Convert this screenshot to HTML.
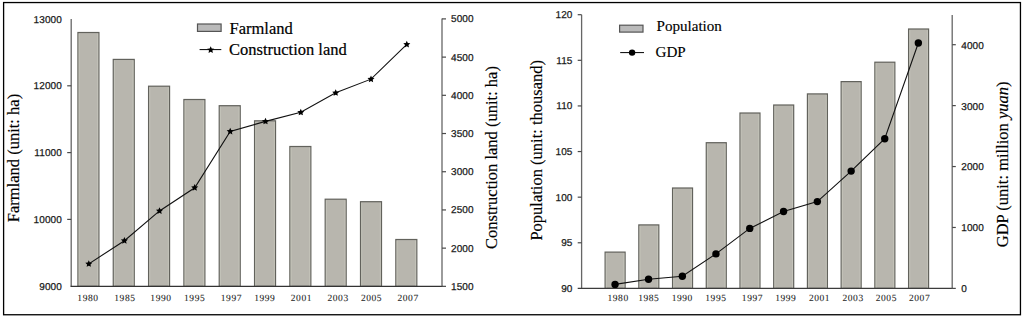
<!DOCTYPE html>
<html><head><meta charset="utf-8"><style>
html,body{margin:0;padding:0;background:#fff;}
body{width:1024px;height:317px;overflow:hidden;}
svg{display:block;}
.tk{font-family:"Liberation Sans",sans-serif;font-size:10px;letter-spacing:0.1px;text-rendering:geometricPrecision;fill:#1a1a1a;stroke:#1a1a1a;stroke-width:0.25px;}
.xl{font-family:"Liberation Serif",serif;font-size:9.5px;fill:#262626;letter-spacing:0.57px;stroke:#262626;stroke-width:0.08px;text-rendering:geometricPrecision;}
.lg{font-family:"Liberation Serif",serif;font-size:16.5px;fill:#000;stroke:#000;stroke-width:0.2px;}
.lg2{font-family:"Liberation Serif",serif;font-size:15.1px;fill:#000;stroke:#000;stroke-width:0.15px;}
.tt{font-family:"Liberation Serif",serif;font-size:16.5px;fill:#000;stroke:#000;stroke-width:0.15px;}
</style></head><body>
<svg width="1024" height="317" viewBox="0 0 1024 317">
<rect x="0" y="0" width="1024" height="317" fill="#fff"/>
<rect x="3.6" y="2.55" width="1016.85" height="312.2" fill="none" stroke="#000" stroke-width="1.3"/>
<rect x="77.93" y="32.50" width="21.0" height="253.85" fill="#b8b6ae" stroke="#62625c" stroke-width="1.2"/>
<line x1="79.13" y1="33.60" x2="79.13" y2="285.75" stroke="#c6c6bc" stroke-width="0.8"/>
<line x1="97.73" y1="33.60" x2="97.73" y2="285.75" stroke="#c6c6bc" stroke-width="0.8"/>
<rect x="113.25" y="59.40" width="21.0" height="226.95" fill="#b8b6ae" stroke="#62625c" stroke-width="1.2"/>
<line x1="114.45" y1="60.50" x2="114.45" y2="285.75" stroke="#c6c6bc" stroke-width="0.8"/>
<line x1="133.05" y1="60.50" x2="133.05" y2="285.75" stroke="#c6c6bc" stroke-width="0.8"/>
<rect x="148.57" y="86.20" width="21.0" height="200.15" fill="#b8b6ae" stroke="#62625c" stroke-width="1.2"/>
<line x1="149.77" y1="87.30" x2="149.77" y2="285.75" stroke="#c6c6bc" stroke-width="0.8"/>
<line x1="168.37" y1="87.30" x2="168.37" y2="285.75" stroke="#c6c6bc" stroke-width="0.8"/>
<rect x="183.90" y="99.50" width="21.0" height="186.85" fill="#b8b6ae" stroke="#62625c" stroke-width="1.2"/>
<line x1="185.10" y1="100.60" x2="185.10" y2="285.75" stroke="#c6c6bc" stroke-width="0.8"/>
<line x1="203.70" y1="100.60" x2="203.70" y2="285.75" stroke="#c6c6bc" stroke-width="0.8"/>
<rect x="219.22" y="105.70" width="21.0" height="180.65" fill="#b8b6ae" stroke="#62625c" stroke-width="1.2"/>
<line x1="220.42" y1="106.80" x2="220.42" y2="285.75" stroke="#c6c6bc" stroke-width="0.8"/>
<line x1="239.02" y1="106.80" x2="239.02" y2="285.75" stroke="#c6c6bc" stroke-width="0.8"/>
<rect x="254.54" y="120.80" width="21.0" height="165.55" fill="#b8b6ae" stroke="#62625c" stroke-width="1.2"/>
<line x1="255.74" y1="121.90" x2="255.74" y2="285.75" stroke="#c6c6bc" stroke-width="0.8"/>
<line x1="274.34" y1="121.90" x2="274.34" y2="285.75" stroke="#c6c6bc" stroke-width="0.8"/>
<rect x="289.86" y="146.50" width="21.0" height="139.85" fill="#b8b6ae" stroke="#62625c" stroke-width="1.2"/>
<line x1="291.06" y1="147.60" x2="291.06" y2="285.75" stroke="#c6c6bc" stroke-width="0.8"/>
<line x1="309.66" y1="147.60" x2="309.66" y2="285.75" stroke="#c6c6bc" stroke-width="0.8"/>
<rect x="325.18" y="199.20" width="21.0" height="87.15" fill="#b8b6ae" stroke="#62625c" stroke-width="1.2"/>
<line x1="326.38" y1="200.30" x2="326.38" y2="285.75" stroke="#c6c6bc" stroke-width="0.8"/>
<line x1="344.98" y1="200.30" x2="344.98" y2="285.75" stroke="#c6c6bc" stroke-width="0.8"/>
<rect x="360.51" y="201.70" width="21.0" height="84.65" fill="#b8b6ae" stroke="#62625c" stroke-width="1.2"/>
<line x1="361.71" y1="202.80" x2="361.71" y2="285.75" stroke="#c6c6bc" stroke-width="0.8"/>
<line x1="380.31" y1="202.80" x2="380.31" y2="285.75" stroke="#c6c6bc" stroke-width="0.8"/>
<rect x="395.83" y="239.50" width="21.0" height="46.85" fill="#b8b6ae" stroke="#62625c" stroke-width="1.2"/>
<line x1="397.03" y1="240.60" x2="397.03" y2="285.75" stroke="#c6c6bc" stroke-width="0.8"/>
<line x1="415.63" y1="240.60" x2="415.63" y2="285.75" stroke="#c6c6bc" stroke-width="0.8"/>
<line x1="71.2" y1="19" x2="71.2" y2="286.35" stroke="#666" stroke-width="1.3"/>
<line x1="70.5" y1="286.35" x2="442.7" y2="286.35" stroke="#333" stroke-width="1.1"/>
<line x1="442.0" y1="18.6" x2="442.0" y2="286.35" stroke="#666" stroke-width="1.3"/>
<text x="61.9" y="22.50" text-anchor="end" class="tk">13000</text>
<line x1="67.2" y1="85.80" x2="71.2" y2="85.80" stroke="#4a4a4a" stroke-width="1.2"/>
<text x="61.9" y="89.30" text-anchor="end" class="tk">12000</text>
<line x1="67.2" y1="152.60" x2="71.2" y2="152.60" stroke="#4a4a4a" stroke-width="1.2"/>
<text x="61.9" y="156.10" text-anchor="end" class="tk">11000</text>
<line x1="67.2" y1="219.40" x2="71.2" y2="219.40" stroke="#4a4a4a" stroke-width="1.2"/>
<text x="61.9" y="222.90" text-anchor="end" class="tk">10000</text>
<text x="61.9" y="289.70" text-anchor="end" class="tk">9000</text>
<line x1="442.0" y1="286.35" x2="446.0" y2="286.35" stroke="#4a4a4a" stroke-width="1.2"/>
<text x="451" y="289.85" class="tk">1500</text>
<line x1="442.0" y1="248.14" x2="446.0" y2="248.14" stroke="#4a4a4a" stroke-width="1.2"/>
<text x="451" y="251.64" class="tk">2000</text>
<line x1="442.0" y1="209.94" x2="446.0" y2="209.94" stroke="#4a4a4a" stroke-width="1.2"/>
<text x="451" y="213.44" class="tk">2500</text>
<line x1="442.0" y1="171.73" x2="446.0" y2="171.73" stroke="#4a4a4a" stroke-width="1.2"/>
<text x="451" y="175.23" class="tk">3000</text>
<line x1="442.0" y1="133.52" x2="446.0" y2="133.52" stroke="#4a4a4a" stroke-width="1.2"/>
<text x="451" y="137.02" class="tk">3500</text>
<line x1="442.0" y1="95.31" x2="446.0" y2="95.31" stroke="#4a4a4a" stroke-width="1.2"/>
<text x="451" y="98.81" class="tk">4000</text>
<line x1="442.0" y1="57.11" x2="446.0" y2="57.11" stroke="#4a4a4a" stroke-width="1.2"/>
<text x="451" y="60.61" class="tk">4500</text>
<line x1="442.0" y1="18.90" x2="446.0" y2="18.90" stroke="#4a4a4a" stroke-width="1.2"/>
<text x="451" y="22.40" class="tk">5000</text>
<polyline fill="none" stroke="#111" stroke-width="1.1" points="88.80,263.85 124.40,240.75 159.50,210.95 194.70,187.75 230.20,131.45 265.50,121.35 300.80,112.35 335.70,92.85 371.00,79.15 406.80,44.45"/>
<polygon points="88.80,260.15 89.84,262.41 92.32,262.71 90.49,264.40 90.97,266.84 88.80,265.63 86.63,266.84 87.11,264.40 85.28,262.71 87.76,262.41" fill="#000"/>
<polygon points="124.40,237.05 125.44,239.31 127.92,239.61 126.09,241.30 126.57,243.74 124.40,242.53 122.23,243.74 122.71,241.30 120.88,239.61 123.36,239.31" fill="#000"/>
<polygon points="159.50,207.25 160.54,209.51 163.02,209.81 161.19,211.50 161.67,213.94 159.50,212.73 157.33,213.94 157.81,211.50 155.98,209.81 158.46,209.51" fill="#000"/>
<polygon points="194.70,184.05 195.74,186.31 198.22,186.61 196.39,188.30 196.87,190.74 194.70,189.53 192.53,190.74 193.01,188.30 191.18,186.61 193.66,186.31" fill="#000"/>
<polygon points="230.20,127.75 231.24,130.01 233.72,130.31 231.89,132.00 232.37,134.44 230.20,133.23 228.03,134.44 228.51,132.00 226.68,130.31 229.16,130.01" fill="#000"/>
<polygon points="265.50,117.65 266.54,119.91 269.02,120.21 267.19,121.90 267.67,124.34 265.50,123.13 263.33,124.34 263.81,121.90 261.98,120.21 264.46,119.91" fill="#000"/>
<polygon points="300.80,108.65 301.84,110.91 304.32,111.21 302.49,112.90 302.97,115.34 300.80,114.13 298.63,115.34 299.11,112.90 297.28,111.21 299.76,110.91" fill="#000"/>
<polygon points="335.70,89.15 336.74,91.41 339.22,91.71 337.39,93.40 337.87,95.84 335.70,94.63 333.53,95.84 334.01,93.40 332.18,91.71 334.66,91.41" fill="#000"/>
<polygon points="371.00,75.45 372.04,77.71 374.52,78.01 372.69,79.70 373.17,82.14 371.00,80.93 368.83,82.14 369.31,79.70 367.48,78.01 369.96,77.71" fill="#000"/>
<polygon points="406.80,40.75 407.84,43.01 410.32,43.31 408.49,45.00 408.97,47.44 406.80,46.23 404.63,47.44 405.11,45.00 403.28,43.31 405.76,43.01" fill="#000"/>
<text x="77.36" y="300.8" class="xl">1980</text>
<text x="114.26" y="300.8" class="xl">1985</text>
<text x="150.36" y="300.8" class="xl">1990</text>
<text x="184.06" y="300.8" class="xl">1995</text>
<text x="220.76" y="300.8" class="xl">1997</text>
<text x="254.16" y="300.8" class="xl">1999</text>
<text x="290.78" y="300.8" class="xl">2001</text>
<text x="327.48" y="300.8" class="xl">2003</text>
<text x="360.88" y="300.8" class="xl">2005</text>
<text x="397.48" y="300.8" class="xl">2007</text>
<rect x="197.5" y="24" width="23.6" height="7.4" fill="#bababa" stroke="#555" stroke-width="1.2"/>
<text x="229.5" y="34.1" class="lg">Farmland</text>
<line x1="199.6" y1="49.6" x2="221.3" y2="49.6" stroke="#000" stroke-width="1.0"/>
<polygon points="210.70,46.20 211.74,48.46 214.22,48.76 212.39,50.45 212.87,52.89 210.70,51.68 208.53,52.89 209.01,50.45 207.18,48.76 209.66,48.46" fill="#000"/>
<text x="229" y="54.5" class="lg">Construction land</text>
<text transform="translate(19,158) rotate(-90)" text-anchor="middle" class="tt">Farmland (unit: ha)</text>
<text transform="translate(496.5,157.5) rotate(-90)" text-anchor="middle" class="tt">Construction land (unit: ha)</text>
<rect x="605.10" y="252.10" width="20.0" height="36.30" fill="#b8b6ae" stroke="#62625c" stroke-width="1.2"/>
<line x1="606.30" y1="253.20" x2="606.30" y2="287.80" stroke="#c6c6bc" stroke-width="0.8"/>
<line x1="623.90" y1="253.20" x2="623.90" y2="287.80" stroke="#c6c6bc" stroke-width="0.8"/>
<rect x="638.82" y="224.90" width="20.0" height="63.50" fill="#b8b6ae" stroke="#62625c" stroke-width="1.2"/>
<line x1="640.02" y1="226.00" x2="640.02" y2="287.80" stroke="#c6c6bc" stroke-width="0.8"/>
<line x1="657.62" y1="226.00" x2="657.62" y2="287.80" stroke="#c6c6bc" stroke-width="0.8"/>
<rect x="672.54" y="188.00" width="20.0" height="100.40" fill="#b8b6ae" stroke="#62625c" stroke-width="1.2"/>
<line x1="673.74" y1="189.10" x2="673.74" y2="287.80" stroke="#c6c6bc" stroke-width="0.8"/>
<line x1="691.34" y1="189.10" x2="691.34" y2="287.80" stroke="#c6c6bc" stroke-width="0.8"/>
<rect x="706.26" y="142.70" width="20.0" height="145.70" fill="#b8b6ae" stroke="#62625c" stroke-width="1.2"/>
<line x1="707.46" y1="143.80" x2="707.46" y2="287.80" stroke="#c6c6bc" stroke-width="0.8"/>
<line x1="725.06" y1="143.80" x2="725.06" y2="287.80" stroke="#c6c6bc" stroke-width="0.8"/>
<rect x="739.98" y="113.00" width="20.0" height="175.40" fill="#b8b6ae" stroke="#62625c" stroke-width="1.2"/>
<line x1="741.18" y1="114.10" x2="741.18" y2="287.80" stroke="#c6c6bc" stroke-width="0.8"/>
<line x1="758.78" y1="114.10" x2="758.78" y2="287.80" stroke="#c6c6bc" stroke-width="0.8"/>
<rect x="773.70" y="105.00" width="20.0" height="183.40" fill="#b8b6ae" stroke="#62625c" stroke-width="1.2"/>
<line x1="774.90" y1="106.10" x2="774.90" y2="287.80" stroke="#c6c6bc" stroke-width="0.8"/>
<line x1="792.50" y1="106.10" x2="792.50" y2="287.80" stroke="#c6c6bc" stroke-width="0.8"/>
<rect x="807.42" y="93.90" width="20.0" height="194.50" fill="#b8b6ae" stroke="#62625c" stroke-width="1.2"/>
<line x1="808.62" y1="95.00" x2="808.62" y2="287.80" stroke="#c6c6bc" stroke-width="0.8"/>
<line x1="826.22" y1="95.00" x2="826.22" y2="287.80" stroke="#c6c6bc" stroke-width="0.8"/>
<rect x="841.14" y="81.60" width="20.0" height="206.80" fill="#b8b6ae" stroke="#62625c" stroke-width="1.2"/>
<line x1="842.34" y1="82.70" x2="842.34" y2="287.80" stroke="#c6c6bc" stroke-width="0.8"/>
<line x1="859.94" y1="82.70" x2="859.94" y2="287.80" stroke="#c6c6bc" stroke-width="0.8"/>
<rect x="874.86" y="62.20" width="20.0" height="226.20" fill="#b8b6ae" stroke="#62625c" stroke-width="1.2"/>
<line x1="876.06" y1="63.30" x2="876.06" y2="287.80" stroke="#c6c6bc" stroke-width="0.8"/>
<line x1="893.66" y1="63.30" x2="893.66" y2="287.80" stroke="#c6c6bc" stroke-width="0.8"/>
<rect x="908.58" y="29.00" width="20.0" height="259.40" fill="#b8b6ae" stroke="#62625c" stroke-width="1.2"/>
<line x1="909.78" y1="30.10" x2="909.78" y2="287.80" stroke="#c6c6bc" stroke-width="0.8"/>
<line x1="927.38" y1="30.10" x2="927.38" y2="287.80" stroke="#c6c6bc" stroke-width="0.8"/>
<line x1="581.6" y1="14.7" x2="581.6" y2="288.4" stroke="#666" stroke-width="1.3"/>
<line x1="577.7" y1="288.4" x2="952.8000000000001" y2="288.4" stroke="#3c3c3c" stroke-width="1.15"/>
<line x1="952.2" y1="15" x2="952.2" y2="288.4" stroke="#666" stroke-width="1.3"/>
<text x="572.5" y="291.90" text-anchor="end" class="tk">90</text>
<line x1="577.7" y1="242.78" x2="581.6" y2="242.78" stroke="#4a4a4a" stroke-width="1.2"/>
<text x="572.5" y="246.28" text-anchor="end" class="tk">95</text>
<line x1="577.7" y1="197.17" x2="581.6" y2="197.17" stroke="#4a4a4a" stroke-width="1.2"/>
<text x="572.5" y="200.67" text-anchor="end" class="tk">100</text>
<line x1="577.7" y1="151.55" x2="581.6" y2="151.55" stroke="#4a4a4a" stroke-width="1.2"/>
<text x="572.5" y="155.05" text-anchor="end" class="tk">105</text>
<line x1="577.7" y1="105.93" x2="581.6" y2="105.93" stroke="#4a4a4a" stroke-width="1.2"/>
<text x="572.5" y="109.43" text-anchor="end" class="tk">110</text>
<line x1="577.7" y1="60.32" x2="581.6" y2="60.32" stroke="#4a4a4a" stroke-width="1.2"/>
<text x="572.5" y="63.82" text-anchor="end" class="tk">115</text>
<line x1="577.7" y1="14.70" x2="581.6" y2="14.70" stroke="#4a4a4a" stroke-width="1.2"/>
<text x="572.5" y="18.20" text-anchor="end" class="tk">120</text>
<line x1="952.2" y1="288.40" x2="955.8000000000001" y2="288.40" stroke="#4a4a4a" stroke-width="1.2"/>
<text x="961.3" y="292.30" class="tk">0</text>
<line x1="952.2" y1="227.47" x2="955.8000000000001" y2="227.47" stroke="#4a4a4a" stroke-width="1.2"/>
<text x="961.3" y="231.37" class="tk">1000</text>
<line x1="952.2" y1="166.55" x2="955.8000000000001" y2="166.55" stroke="#4a4a4a" stroke-width="1.2"/>
<text x="961.3" y="170.45" class="tk">2000</text>
<line x1="952.2" y1="105.62" x2="955.8000000000001" y2="105.62" stroke="#4a4a4a" stroke-width="1.2"/>
<text x="961.3" y="109.52" class="tk">3000</text>
<line x1="952.2" y1="44.70" x2="955.8000000000001" y2="44.70" stroke="#4a4a4a" stroke-width="1.2"/>
<text x="961.3" y="48.60" class="tk">4000</text>
<polyline fill="none" stroke="#111" stroke-width="1.1" points="615.05,284.40 648.55,279.30 682.35,276.20 715.95,253.90 749.75,228.40 783.55,211.50 817.35,201.60 851.15,171.10 884.75,138.70 918.35,43.00"/>
<circle cx="615.05" cy="284.40" r="3.7" fill="#000"/>
<circle cx="648.55" cy="279.30" r="3.7" fill="#000"/>
<circle cx="682.35" cy="276.20" r="3.7" fill="#000"/>
<circle cx="715.95" cy="253.90" r="3.7" fill="#000"/>
<circle cx="749.75" cy="228.40" r="3.7" fill="#000"/>
<circle cx="783.55" cy="211.50" r="3.7" fill="#000"/>
<circle cx="817.35" cy="201.60" r="3.7" fill="#000"/>
<circle cx="851.15" cy="171.10" r="3.7" fill="#000"/>
<circle cx="884.75" cy="138.70" r="3.7" fill="#000"/>
<circle cx="918.35" cy="43.00" r="3.7" fill="#000"/>
<text x="607.46" y="300.8" class="xl">1980</text>
<text x="638.16" y="300.8" class="xl">1985</text>
<text x="671.66" y="300.8" class="xl">1990</text>
<text x="705.26" y="300.8" class="xl">1995</text>
<text x="741.86" y="300.8" class="xl">1997</text>
<text x="775.16" y="300.8" class="xl">1999</text>
<text x="808.88" y="300.8" class="xl">2001</text>
<text x="842.48" y="300.8" class="xl">2003</text>
<text x="875.68" y="300.8" class="xl">2005</text>
<text x="908.98" y="300.8" class="xl">2007</text>
<rect x="619.6" y="25.2" width="23.4" height="6.9" fill="#bababa" stroke="#555" stroke-width="1.2"/>
<text x="656.5" y="30.8" class="lg2">Population</text>
<line x1="620.2" y1="52.6" x2="644" y2="52.6" stroke="#000" stroke-width="1.0"/>
<circle cx="632.1" cy="52.6" r="3.2" fill="#000"/>
<text x="655.5" y="57.2" class="lg2">GDP</text>
<text transform="translate(541.8,150.3) rotate(-90)" text-anchor="middle" class="tt">Population (unit: thousand)</text>
<text transform="translate(1008.4,164.35) rotate(-90)" text-anchor="middle" class="tt">GDP (unit: million <tspan font-style="italic">yuan</tspan>)</text>
</svg>
</body></html>
